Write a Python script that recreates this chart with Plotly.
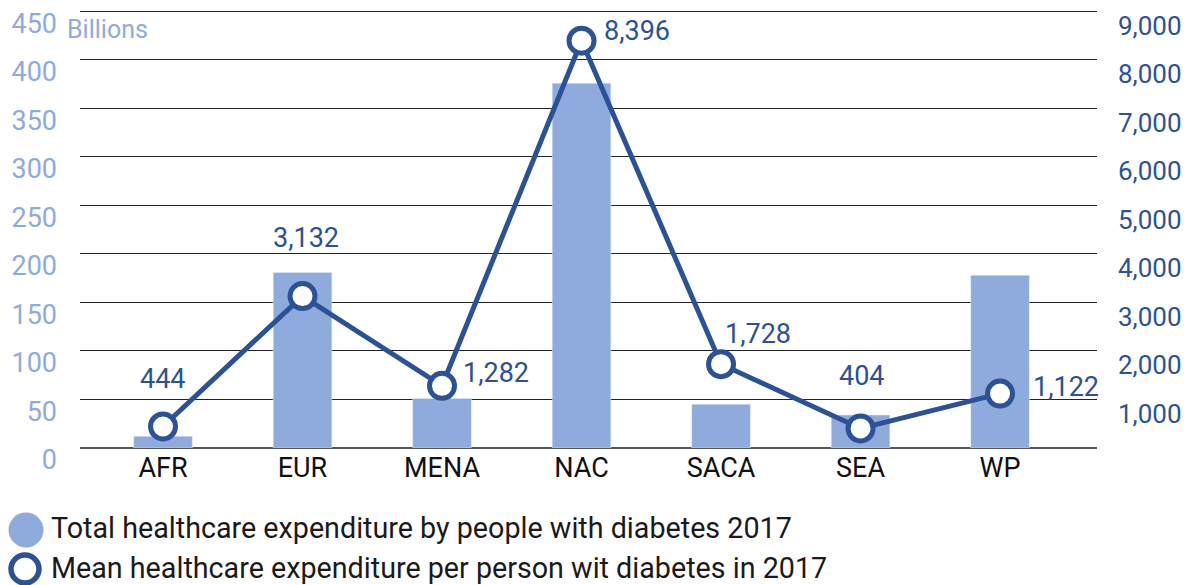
import plotly.graph_objects as go

regions = ["AFR", "EUR", "MENA", "NAC", "SACA", "SEA", "WP"]
total_exp_billions = [12, 181, 51, 376, 45, 34, 178]
mean_exp_per_person = [444, 3132, 1282, 8396, 1728, 404, 1122]
left_ticks = [0, 50, 100, 150, 200, 250, 300, 350, 400, 450]
right_ticks = [1000, 2000, 3000, 4000, 5000, 6000, 7000, 8000, 9000]
legend_labels = ["Total healthcare expenditure by people with diabetes 2017",
                 "Mean healthcare expenditure per person wit diabetes in 2017"]

# label offsets (pixels) for the data labels
label_shift = [(0, 47), (3, 58), (54, 13), (55, 10), (37, 30), (1, 52), (66, 7)]

BAR = "#8faadc"
LINE = "#2b5296"
FONT = "Roboto"

W, H = 1186, 585
L, R, T, B = 80, 89, 9, 137
PW, PH = W - L - R, H - T - B


def px(x):
    return (x - L) / PW


def py(y):
    return (H - B - y) / PH


fig = go.Figure()
fig.add_trace(go.Bar(x=regions, y=total_exp_billions, marker_color=BAR, width=0.42,
                     showlegend=False, yaxis="y"))
fig.add_trace(go.Scatter(x=regions, y=mean_exp_per_person, yaxis="y2", mode="lines+markers",
                         line=dict(color=LINE, width=5),
                         marker=dict(size=25, color="white", line=dict(color=LINE, width=5)),
                         showlegend=False))

for r, v, (dx, dy) in zip(regions, mean_exp_per_person, label_shift):
    fig.add_annotation(x=r, y=v, xref="x", yref="y2", text=f"{v:,}", showarrow=False,
                       xshift=dx, yshift=dy, font=dict(family=FONT, size=27, color=LINE))

fig.add_annotation(xref="paper", yref="paper", x=px(65), y=py(30), text="Billions",
                   showarrow=False, xanchor="left", yanchor="middle",
                   font=dict(family=FONT, size=25, color=BAR))

# custom legend
fig.add_shape(type="circle", xref="paper", yref="paper", x0=px(8.5), x1=px(43.5),
              y0=py(512.5), y1=py(547.5), fillcolor=BAR, line=dict(width=0))
fig.add_shape(type="circle", xref="paper", yref="paper", x0=px(11), x1=px(39),
              y0=py(555), y1=py(583), fillcolor="white", line=dict(color=LINE, width=5.5))
fig.add_annotation(xref="paper", yref="paper", x=px(49), y=py(528), text=legend_labels[0],
                   showarrow=False, xanchor="left", yanchor="middle",
                   font=dict(family=FONT, size=28.7, color="#1a1a1a"))
fig.add_annotation(xref="paper", yref="paper", x=px(49), y=py(568), text=legend_labels[1],
                   showarrow=False, xanchor="left", yanchor="middle",
                   font=dict(family=FONT, size=28.7, color="#1a1a1a"))

fig.update_layout(
    width=W, height=H,
    margin=dict(l=L, r=R, t=T, b=B, autoexpand=False),
    plot_bgcolor="white", paper_bgcolor="white",
    xaxis=dict(range=[-0.595, 6.695], tickfont=dict(family=FONT, size=27, color="#111"),
               showgrid=False, showline=False, ticks="", ticklabelstandoff=1,
               automargin=False),
    yaxis=dict(range=[0, 452.5], tickvals=left_ticks, showgrid=True, gridcolor="#222",
               gridwidth=1.2, zeroline=True, zerolinecolor="#555", zerolinewidth=1.5,
               tickfont=dict(family=FONT, size=27, color=BAR), ticklabelstandoff=22,
               ticklabelshift=12, automargin=False),
    yaxis2=dict(range=[0, 9050], overlaying="y", side="right", tickvals=right_ticks,
                tickformat=",", showgrid=False, zeroline=False,
                tickfont=dict(family=FONT, size=26, color=LINE), ticklabelstandoff=20,
                ticklabelshift=14, automargin=False),
    bargap=0.58,
)

fig.write_html("out.html", config={"displayModeBar": False},
               post_script="document.body.style.margin='0px';")
